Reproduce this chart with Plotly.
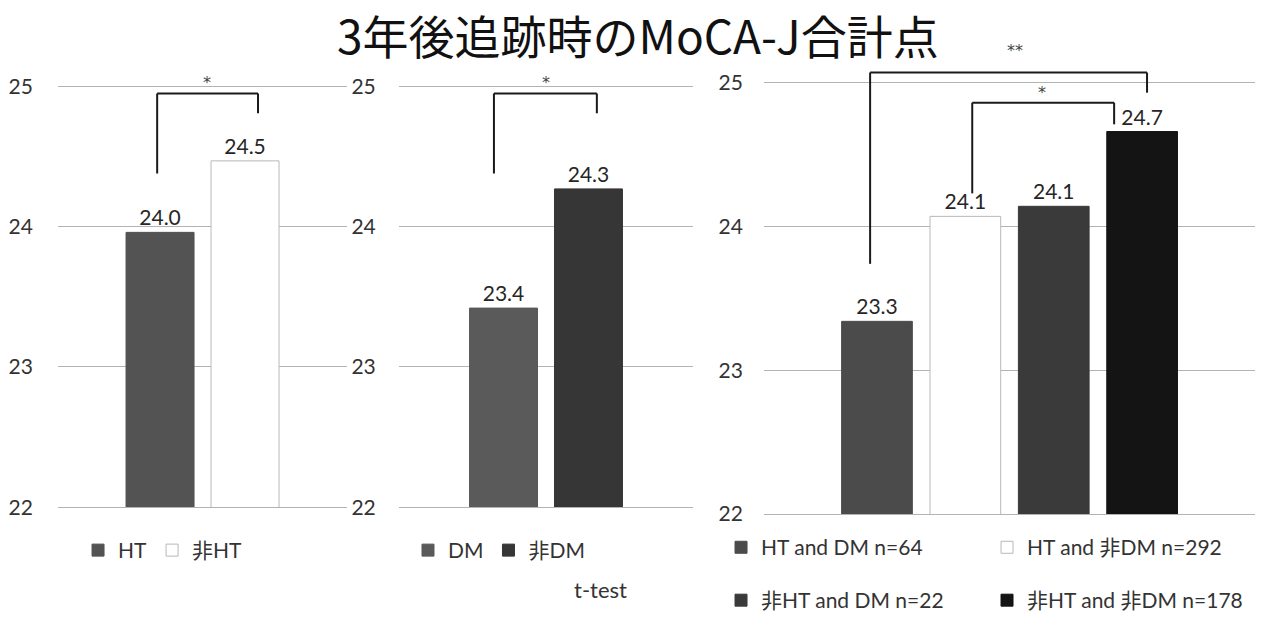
import plotly.graph_objects as go

# MoCA-J total score at the 3-year follow-up, by hypertension (HT) / diabetes (DM) status
ht_names = ["HT", "非HT"]
ht_scores = [23.96, 24.47]

dm_names = ["DM", "非DM"]
dm_scores = [23.42, 24.27]

combo_names = ["HT and DM n=64", "HT and 非DM n=292", "非HT and DM n=22", "非HT and 非DM n=178"]
combo_scores = [23.34, 24.07, 24.14, 24.66]

y_ticks = [22, 23, 24, 25]

FONT = "Lato, 'Noto Sans CJK JP', sans-serif"
TXT = "#262626"
GRID = "#b3b3b3"

ht_colors = ["#535353", "#ffffff"]
dm_colors = ["#5a5a5a", "#363636"]
combo_colors = ["#4b4b4b", "#ffffff", "#3a3a3a", "#141414"]

fig = go.Figure()


def add_bars(names, scores, colors, xa, ya, legends):
    for name, val, col, lg in zip(names, scores, colors, legends):
        white = col.lower() == "#ffffff"
        fig.add_trace(go.Bar(
            x=["group"], y=[val], name=name,
            marker=dict(color=col,
                        line=dict(color="#b8b8b8" if white else col, width=1)),
            texttemplate="%{y:.1f}", textposition="outside",
            textfont=dict(family=FONT, size=21, color=TXT),
            cliponaxis=False,
            xaxis=xa, yaxis=ya, legend=lg,
        ))


add_bars(ht_names, ht_scores, ht_colors, "x", "y", ["legend", "legend"])
add_bars(dm_names, dm_scores, dm_colors, "x2", "y2", ["legend2", "legend2"])
add_bars(combo_names, combo_scores, combo_colors, "x3", "y3",
         ["legend3", "legend3", "legend4", "legend4"])


def yaxis(domain, standoff):
    return dict(domain=domain, range=[22, 25.4], tickvals=y_ticks,
                showgrid=True, gridcolor=GRID, gridwidth=1,
                zeroline=False, showline=False,
                ticks="outside", ticklen=standoff, tickcolor="rgba(0,0,0,0)",
                tickfont=dict(family=FONT, size=21, color="#333333"))


def xaxis(domain, anchor, half):
    # the x axis line doubles as the baseline grid line at 22
    return dict(domain=domain, anchor=anchor, range=[-half, half],
                showticklabels=False, showgrid=False, zeroline=False,
                showline=True, linecolor=GRID, linewidth=1, ticks="")


def legend(x, y, entry=None):
    d = dict(orientation="h", x=x, y=y, xanchor="left", yanchor="middle",
             font=dict(family=FONT, size=21, color="#333333"),
             bgcolor="rgba(0,0,0,0)", traceorder="normal")
    if entry:
        d.update(entrywidth=entry, entrywidthmode="pixels")
    return d


# significance brackets: (axis, x-left, x-right, y-top, y-left-end, y-right-end)
brackets = [
    ("", 0.343, 0.692, 24.95, 24.38, 24.81),
    ("2", 0.323, 0.673, 24.95, 24.38, 24.81),
    ("3", 0.216, 0.780, 25.07, 23.74, 24.93),
    ("3", 0.424, 0.713, 24.86, 24.23, 24.71),
]
shapes = []
for ax, xl, xr, yt, yl, yr in brackets:
    common = dict(type="line", xref=f"x{ax} domain", yref=f"y{ax}",
                  line=dict(color="#1a1a1a", width=2))
    shapes.append(dict(x0=xl, x1=xl, y0=yl, y1=yt, **common))
    shapes.append(dict(x0=xl, x1=xr, y0=yt, y1=yt, **common))
    shapes.append(dict(x0=xr, x1=xr, y0=yt, y1=yr, **common))

stars = [("", 0.516, 25.03, "*"), ("2", 0.5, 25.03, "*"),
         ("3", 0.511, 25.22, "**"), ("3", 0.567, 24.93, "*")]
annotations = [
    dict(text=s, xref=f"x{ax} domain", yref=f"y{ax}", x=x, y=y,
         showarrow=False, font=dict(family="DejaVu Sans, sans-serif", size=16, color="#444444"))
    for ax, x, y, s in stars
]
annotations.append(dict(text="t-test", xref="paper", yref="paper",
                        x=0.472, y=0.0435, showarrow=False,
                        font=dict(family=FONT, size=22, color="#333333")))
# chart title
annotations.append(dict(text="3年後追跡時のMoCA-J合計点", xref="paper", yref="paper",
                        x=0.501, y=1.0, xanchor="center", yanchor="top",
                        showarrow=False, borderpad=0,
                        font=dict(family="'Noto Sans CJK JP', sans-serif", size=46,
                                  color="#111111")))

fig.update_layout(
    width=1273, height=643,
    margin=dict(l=0, r=0, t=0, b=0),
    paper_bgcolor="white", plot_bgcolor="white",
    barmode="group", bargap=0.28, bargroupgap=0.2,
    xaxis=xaxis([0.0456, 0.2726], "y", 0.612),
    xaxis2=xaxis([0.3134, 0.5444], "y2", 0.623),
    xaxis3=xaxis([0.6002, 0.9859], "y3", 0.5),
    yaxis=dict(anchor="x", **yaxis([0.1975, 0.9518], 20)),
    yaxis2=dict(anchor="x2", **yaxis([0.1975, 0.9518], 18)),
    yaxis3=dict(anchor="x3", **yaxis([0.1866, 0.9603], 16)),
    legend=legend(0.0613, 0.1290),
    legend2=legend(0.3205, 0.1290),
    legend3=legend(0.5664, 0.1335, 221),
    legend4=legend(0.5664, 0.0498, 221),
    shapes=shapes,
    annotations=annotations,
    showlegend=True,
)

fig.write_html("out.html")
